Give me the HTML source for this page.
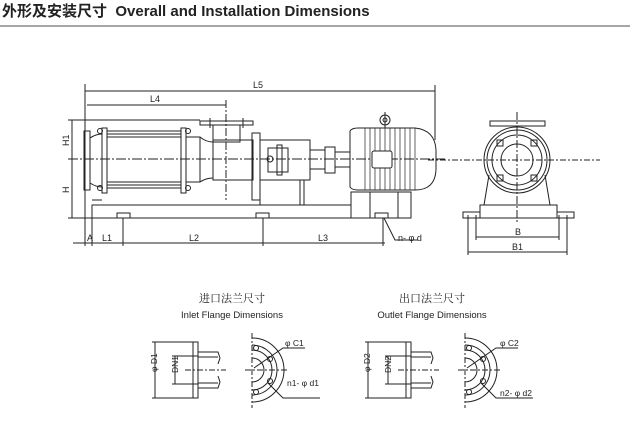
<!DOCTYPE html>
<html><head><meta charset="utf-8"><style>
html,body{margin:0;padding:0;background:#fff;}
svg{display:block;}
text{font-family:"Liberation Sans","Noto Sans CJK SC",sans-serif;fill:#222;}
</style></head><body>
<svg width="630" height="421" viewBox="0 0 630 421" xmlns="http://www.w3.org/2000/svg">
<text x="2" y="16" font-size="15" font-weight="bold" style="font-family:'Liberation Sans','Noto Sans CJK SC',sans-serif">外形及安装尺寸 &#160;Overall and Installation Dimensions</text>
<line x1="0" y1="26" x2="630" y2="26" stroke="#888" stroke-width="1.5"/>
<g fill="none" stroke="#222" stroke-width="1">
<line x1="85" y1="91" x2="435" y2="91"/><line x1="87" y1="105" x2="226" y2="105"/>
<line x1="85" y1="84" x2="85" y2="246"/><line x1="435" y1="85" x2="435" y2="140"/>
<line x1="226" y1="100" x2="226" y2="200" stroke-dasharray="8,2,2,2"/>
<line x1="68" y1="159" x2="445" y2="159" stroke-dasharray="10,2,2,2"/>
<line x1="72" y1="120" x2="72" y2="218"/>
<line x1="68" y1="120" x2="200" y2="120"/><line x1="68" y1="218" x2="92" y2="218"/>
<rect x="84" y="131" width="6" height="59"/>
<path d="M90 138 Q96 134 102 134 M90 183 Q96 187 102 187"/>
<rect x="102" y="128" width="5" height="65"/><rect x="181" y="128" width="5" height="65"/>
<line x1="107" y1="131" x2="181" y2="131"/><line x1="107" y1="134" x2="181" y2="134"/>
<line x1="107" y1="185" x2="181" y2="185"/><line x1="107" y1="188" x2="181" y2="188"/>
<line x1="107" y1="137" x2="181" y2="137"/><line x1="107" y1="182" x2="181" y2="182"/>
<circle cx="100" cy="131" r="2.5"/><circle cx="100" cy="188" r="2.5"/><circle cx="188" cy="131" r="2.5"/><circle cx="188" cy="188" r="2.5"/>
<path d="M186 137 L200 137 Q206 142 213 142 M186 182 L200 182 Q206 178 213 178"/>
<line x1="200" y1="137" x2="200" y2="182"/>
<rect x="213" y="140" width="40" height="40"/>
<rect x="213" y="125" width="27" height="17"/>
<rect x="200" y="121" width="53" height="4"/>
<line x1="210" y1="118" x2="210" y2="128"/><line x1="243" y1="118" x2="243" y2="128"/>
<rect x="252" y="133" width="8" height="67"/>
<rect x="260" y="140" width="50" height="40"/>
<rect x="268" y="148" width="20" height="24"/><rect x="277" y="145" width="5" height="30"/>
<circle cx="270" cy="159" r="3"/>
<line x1="300" y1="180" x2="300" y2="205"/><line x1="304" y1="180" x2="304" y2="205"/>
<line x1="260" y1="200" x2="260" y2="205"/>
<rect x="310" y="150" width="15" height="19"/>
<rect x="325" y="147" width="10" height="26"/><rect x="335" y="152" width="15" height="15"/>
<path d="M350 131 Q352 128 358 128 L415 128 Q435 130 436 150 L436 170 Q435 190 415 190 L358 190 Q352 190 350 187 Z"/>
<g stroke-width="0.7">
<line x1="365" y1="128" x2="365" y2="190"/><line x1="370" y1="128" x2="370" y2="190"/><line x1="375" y1="128" x2="375" y2="190"/><line x1="380" y1="128" x2="380" y2="190"/><line x1="385" y1="128" x2="385" y2="190"/><line x1="390" y1="128" x2="390" y2="190"/><line x1="395" y1="128" x2="395" y2="190"/><line x1="400" y1="128" x2="400" y2="190"/><line x1="405" y1="128" x2="405" y2="190"/><line x1="410" y1="128" x2="410" y2="190"/><line x1="415" y1="128" x2="415" y2="190"/>
</g>
<rect x="372" y="151" width="20" height="17" fill="#fff" rx="2"/>
<circle cx="385" cy="120" r="5"/><circle cx="385" cy="120" r="2"/><line x1="385" y1="112" x2="385" y2="128"/>
<rect x="351" y="192" width="60" height="26"/>
<line x1="370" y1="192" x2="370" y2="218"/><line x1="398" y1="192" x2="398" y2="218"/>
<rect x="92" y="205" width="259" height="13"/>
<line x1="92" y1="200" x2="102" y2="200"/>
<rect x="117" y="213" width="13" height="5"/><rect x="256" y="213" width="13" height="5"/><rect x="375" y="213" width="13" height="5"/>
<line x1="73" y1="243" x2="385" y2="243"/>
<line x1="92" y1="218" x2="92" y2="246"/><line x1="123" y1="218" x2="123" y2="246"/><line x1="263" y1="218" x2="263" y2="246"/><line x1="383" y1="218" x2="383" y2="246"/>
<path d="M384 218 L395 240 L418 240"/>
<line x1="428" y1="160" x2="600" y2="160" stroke-dasharray="6,2,2,2"/>
<line x1="517" y1="112" x2="517" y2="222" stroke-dasharray="8,2,2,2"/>
<rect x="490" y="121" width="55" height="5"/>
<circle cx="517" cy="160" r="33"/><circle cx="517" cy="160" r="30"/><circle cx="517" cy="160" r="25"/><circle cx="517" cy="160" r="16"/>
<rect x="497" y="140" width="6" height="6"/><rect x="531" y="140" width="6" height="6"/><rect x="497" y="175" width="6" height="6"/><rect x="531" y="175" width="6" height="6"/>
<path d="M489 175 L484 205 M545 175 L550 205"/>
<rect x="480" y="205" width="77" height="13"/>
<rect x="463" y="212" width="17" height="6"/><rect x="557" y="212" width="17" height="6"/>
<line x1="476" y1="215" x2="476" y2="240"/><line x1="559" y1="215" x2="559" y2="240"/>
<line x1="468" y1="215" x2="468" y2="255"/><line x1="567" y1="215" x2="567" y2="255"/>
<line x1="476" y1="237" x2="559" y2="237"/><line x1="468" y1="252" x2="567" y2="252"/>
</g>
<g font-size="9">
<text x="253" y="88">L5</text><text x="150" y="102">L4</text>
<text x="62" y="145" transform="rotate(-90 66 142)">H1</text><text x="62" y="192" transform="rotate(-90 66 189)">H</text>
<text x="87" y="241">A</text><text x="102" y="241">L1</text><text x="189" y="241">L2</text><text x="318" y="241">L3</text>
<text x="398" y="241">n- φ d</text>
<text x="515" y="235">B</text><text x="512" y="250">B1</text>
</g>
<g font-size="11" text-anchor="middle">
<text x="232" y="302" style="font-family:'Noto Serif CJK SC',serif">进口法兰尺寸</text>
<text x="432" y="302" style="font-family:'Noto Serif CJK SC',serif">出口法兰尺寸</text>
<text x="232" y="318" font-size="9.5">Inlet Flange Dimensions</text>
<text x="432" y="318" font-size="9.5">Outlet Flange Dimensions</text>
</g>
<g id="fl" fill="none" stroke="#222" stroke-width="1">
<line x1="155" y1="342" x2="155" y2="398"/><line x1="152" y1="342" x2="197" y2="342"/><line x1="152" y1="398" x2="197" y2="398"/>
<rect x="193" y="342" width="5" height="56"/>
<path d="M198 352 L218 352 L220 358 L218 364 M198 357 L218 357 M198 383 L218 383 M198 388 L218 388 L220 382 L218 376"/>
<line x1="175" y1="356" x2="175" y2="384"/><line x1="172" y1="356" x2="198" y2="356"/><line x1="172" y1="384" x2="198" y2="384"/>
<line x1="185" y1="370" x2="226" y2="370" stroke-dasharray="6,2,2,2"/>
<line x1="252" y1="333" x2="252" y2="408" stroke-dasharray="6,2,2,2"/>
<line x1="245" y1="370" x2="287" y2="370" stroke-dasharray="6,2,2,2"/>
<path d="M252 338 A32 32 0 0 1 252 402 M252 345 A25 25 0 0 1 252 395 M252 350 A20 20 0 0 1 252 390 M252 358 A12 12 0 0 1 252 382"/>
<circle cx="256" cy="348" r="2.5"/><circle cx="270" cy="359" r="2.5"/><circle cx="270" cy="381" r="2.5"/><circle cx="256" cy="392" r="2.5"/>
<path d="M254 368 L283 348 L305 348 M268 383 L283 398 L320 398"/>
</g>
<use href="#fl" x="213"/>
<g font-size="8.5">
<text x="150" y="375" transform="rotate(-90 152 370)">φ D1</text>
<text x="170" y="375" transform="rotate(-90 173 370)">DN1</text>
<text x="285" y="346">φ C1</text><text x="287" y="386">n1- φ d1</text>
<text x="363" y="375" transform="rotate(-90 365 370)">φ D2</text>
<text x="383" y="375" transform="rotate(-90 386 370)">DN2</text>
<text x="500" y="346">φ C2</text><text x="500" y="396">n2- φ d2</text>
</g>
</svg>
</body></html>
